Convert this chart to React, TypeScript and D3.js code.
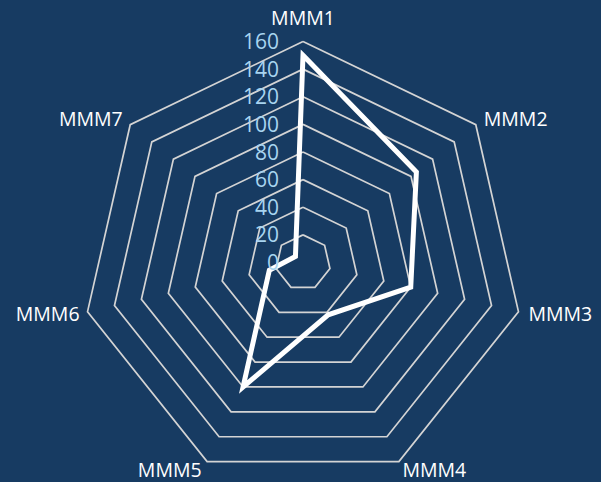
import React from "react";
import * as d3 from "d3";

const categories = ["MMM1", "MMM2", "MMM3", "MMM4", "MMM5", "MMM6", "MMM7"];
const values = [150, 105, 80, 42, 100, 25, 7];
const ticks = [0, 20, 40, 60, 80, 100, 120, 140, 160];

const W = 601;
const H = 482;
const CX = 303;
const CY = 262.5;
const R = 221;
const BG = "#173b62";
const GRID = "#d4d4d4";
const TICK_COLOR = "#a8d4f0";
const FONT = "'Open Sans', 'Noto Sans', sans-serif";

export default function App() {
  const n = categories.length;
  const angle = d3
    .scaleLinear()
    .domain([0, n])
    .range([0, 2 * Math.PI]);
  const r = d3.scaleLinear().domain([0, 160]).range([0, R]);

  const pt = (i: number, v: number): [number, number] => {
    const a = angle(i);
    return [CX + Math.sin(a) * r(v), CY - Math.cos(a) * r(v)];
  };

  const ring = (v: number) =>
    d3.line()(d3.range(n).map((i) => pt(i, v)).concat([pt(0, v)])) as string;

  const dataPath = d3
    .line<number>()
    .x((v, i) => pt(i, v)[0])
    .y((v, i) => pt(i, v)[1])
    .curve(d3.curveLinearClosed)(values) as string;

  // category label placement relative to each outer vertex
  const labelPos = (i: number) => {
    const a = angle(i);
    const s = Math.sin(a);
    const c = Math.cos(a);
    const [vx, vy] = pt(i, 160);
    let anchor: "start" | "middle" | "end" = "middle";
    let dx = 0;
    if (s > 0.1) anchor = "start";
    else if (s < -0.1) anchor = "end";
    if (anchor === "start") dx = c > -0.5 ? (c > 0 ? 8 : 10) : 3.5;
    if (anchor === "end") dx = c > -0.5 ? (c > 0 ? -7.5 : -8) : -5.5;
    let dy = 0;
    if (c > 0.9) dy = -17;
    else if (c > 0) dy = 1;
    else if (c > -0.5) dy = 9.5;
    else dy = 15.5;
    return { x: vx + dx, y: vy + dy, anchor };
  };

  return (
    <svg
      width={W}
      height={H}
      style={{ position: "absolute", left: 0, top: 0, display: "block" }}
    >
      <rect x={0} y={0} width={W} height={H} fill={BG} />
      {ticks
        .filter((t) => t > 0)
        .map((t) => (
          <path key={t} d={ring(t)} fill="none" stroke={GRID} strokeWidth={1.7} />
        ))}
      <path
        d={dataPath}
        fill="none"
        stroke="#ffffff"
        strokeWidth={5}
        strokeLinejoin="miter"
      />
      {ticks.map((t) => (
        <text
          key={t}
          x={CX - 24}
          y={CY - r(t)}
          dy="0.36em"
          textAnchor="end"
          fill={TICK_COLOR}
          fontFamily={FONT}
          fontSize={21}
        >
          {t}
        </text>
      ))}
      {categories.map((c, i) => {
        const p = labelPos(i);
        return (
          <text
            key={c}
            x={p.x}
            y={p.y}
            textAnchor={p.anchor}
            fill="#ffffff"
            fontFamily={FONT}
            fontSize={19.5}
          >
            {c}
          </text>
        );
      })}
    </svg>
  );
}
